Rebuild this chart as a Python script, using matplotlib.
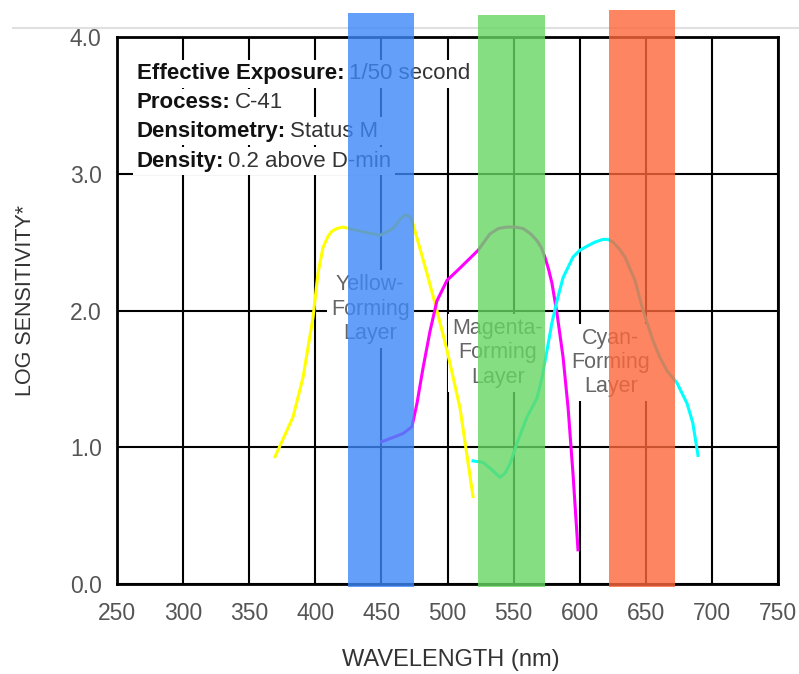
import matplotlib
matplotlib.use("Agg")
import matplotlib.pyplot as plt
from matplotlib.lines import Line2D

plt.rcParams['font.family'] = ['Liberation Sans', 'DejaVu Sans']

# spectral sensitivity curves (wavelength nm, log sensitivity)
yellow_nm = [369.5, 383.1, 390.7, 398.3, 402.0, 405.8, 409.5, 412.6, 416.5, 420.9, 433.8, 448.9,
             458.8, 464.5, 467.9, 471.0, 473.1, 476.9, 484.5, 492.0, 499.6, 509.4, 519.3]
yellow_val = [0.93, 1.22, 1.51, 1.95, 2.27, 2.46, 2.54, 2.58, 2.60, 2.61, 2.58, 2.55,
              2.60, 2.67, 2.70, 2.69, 2.66, 2.53, 2.27, 2.00, 1.71, 1.29, 0.64]

magenta_nm = [450.2, 466.3, 473.1, 476.9, 481.5, 486.8, 492.0, 499.6, 509.4, 523.1,
              532.1, 538.5, 545.0, 551.0, 557.1, 563.0, 567.7, 571.0, 573.7, 576.5, 579.0,
              582.8, 587.4, 591.2, 594.9, 598.7]
magenta_val = [1.04, 1.10, 1.15, 1.32, 1.58, 1.85, 2.07, 2.22, 2.31, 2.44,
               2.56, 2.60, 2.61, 2.61, 2.60, 2.56, 2.51, 2.46, 2.39, 2.30, 2.20,
               1.98, 1.66, 1.29, 0.81, 0.25]

cyan_nm = [519.3, 526.8, 533.0, 539.7, 543.5, 547.3, 552.6, 560.1, 567.7, 571.5, 575.3, 579.0,
           582.8, 587.4, 594.9, 600.0, 605.5, 611.5, 617.6, 621.5, 625.2, 630.0, 634.3, 641.8,
           647.9, 655.4, 660.5, 666.0, 673.6, 681.2, 685.5, 689.5]
cyan_val = [0.90, 0.89, 0.84, 0.78, 0.81, 0.88, 1.03, 1.22, 1.36, 1.51, 1.71, 1.91,
            2.07, 2.24, 2.39, 2.44, 2.47, 2.50, 2.52, 2.52, 2.50, 2.45, 2.39, 2.22,
            2.00, 1.78, 1.66, 1.56, 1.47, 1.32, 1.18, 0.94]

# coloured bands (nm range and top)
band_lo = [425, 523, 622]
band_hi = [475, 574, 672]
band_top = [4.175, 4.16, 4.2]
band_colors = ['#3d88f9', '#68d663', '#fd673b']

# text
info_keys = ['Effective Exposure:', 'Process:', 'Densitometry:', 'Density:']
info_vals = ['1/50 second', 'C-41', 'Status M', '0.2 above D-min']
info_y = [3.73, 3.52, 3.31, 3.09]

layer_names = ['Yellow-\nForming\nLayer', 'Magenta-\nForming\nLayer', 'Cyan-\nForming\nLayer']
layer_x = [441.5, 538, 623.5]
layer_y = [2.01, 1.69, 1.62]

fig = plt.figure(figsize=(7.99, 6.74), dpi=100)
ax = fig.add_axes([117/799, 1 - 584/674, 661/799, 547/674])

ax.set_xlim(250, 750)
ax.set_ylim(0, 4)
ax.set_xticks(range(250, 751, 50))
ax.set_yticks([0, 1, 2, 3, 4])
ax.set_yticklabels(['%.1f' % v for v in [0, 1, 2, 3, 4]])
ax.tick_params(length=0, labelsize=16.5, labelcolor='#555555')
ax.tick_params(axis='x', pad=13)
ax.tick_params(axis='y', pad=11)
ax.grid(True, color='black', linewidth=1.5)
ax.set_axisbelow(True)
for s in ax.spines.values():
    s.set_linewidth(2)
    s.set_color('black')

# info block, bold key + regular value, each on white
for key, val, y in zip(info_keys, info_vals, info_y):
    t = ax.text(265, y, key, fontsize=16, fontweight='bold', va='center', color='#111111',
                bbox=dict(facecolor='white', edgecolor='none', pad=2.5), zorder=3)
    ax.annotate(val, xy=(1, 0), xycoords=t, xytext=(3, 0), textcoords='offset points',
                fontsize=16, va='bottom', ha='left', color='#333333',
                bbox=dict(facecolor='white', edgecolor='none', pad=2.5), zorder=3)

for name, x, y in zip(layer_names, layer_x, layer_y):
    ax.text(x, y, name, fontsize=15.5, color='#666666', ha='center', va='center',
            linespacing=1.2, bbox=dict(facecolor='white', edgecolor='none', pad=3), zorder=3)

ax.plot(yellow_nm, yellow_val, color='#ffff00', lw=2.2, zorder=4, solid_joinstyle='round')
ax.plot(magenta_nm, magenta_val, color='#ff00ff', lw=2.2, zorder=4, solid_joinstyle='round')
ax.plot(cyan_nm, cyan_val, color='#00ffff', lw=2.2, zorder=4, solid_joinstyle='round')

for lo, hi, top, c in zip(band_lo, band_hi, band_top, band_colors):
    ax.bar((lo + hi) / 2, top + 0.02, width=hi - lo, bottom=-0.02, color=c,
           alpha=0.8, linewidth=0, zorder=5, clip_on=False)

ax.set_xlabel('WAVELENGTH (nm)', fontsize=17, color='#333333', va='center')
ax.xaxis.set_label_coords(0.505, -76/547)
ax.set_ylabel('LOG SENSITIVITY*', fontsize=15.5, color='#333333', va='center', ha='center')
ax.yaxis.set_label_coords(-91/661, 283/547)

# thin rule at the top of the picture, behind the bands
fig.add_artist(Line2D([13/799, 1], [1 - 28/674] * 2, transform=fig.transFigure,
                      color='#e0e0e0', lw=1.5, zorder=-1))

fig.savefig('out.png', dpi=100)
